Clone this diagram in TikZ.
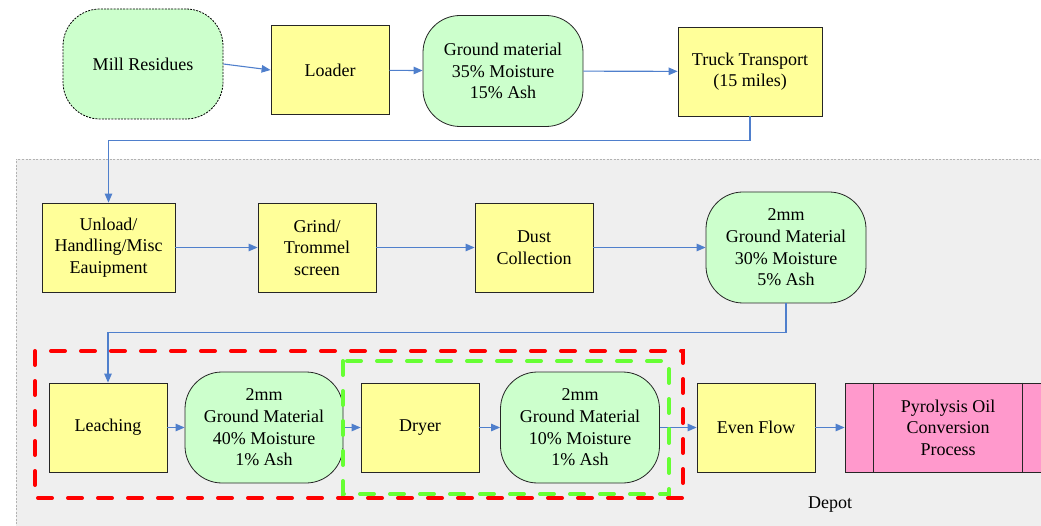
\documentclass[tikz,border=0pt]{standalone}
\usepackage{fontspec}
\setmainfont{Liberation Serif}
\newfontfamily\labelfont{Liberation Serif}
\usetikzlibrary{arrows.meta}

\definecolor{boxyellow}{HTML}{FFFF99}
\definecolor{boxgreen}{HTML}{CCFFCC}
\definecolor{boxpink}{HTML}{FF99CC}
\definecolor{flowblue}{HTML}{4F7FCC}
\definecolor{depotgray}{HTML}{EFEFEF}
\definecolor{dryergreen}{HTML}{66FF33}

\tikzset{
  proc/.style={draw=black!85, line width=0.8pt, fill=boxyellow, minimum width=118pt, minimum height=89pt, align=center, inner sep=2pt},
  stuff/.style={draw=black!85, line width=0.8pt, fill=boxgreen, rounded corners=37pt, minimum width=160pt, minimum height=111pt, align=center, inner sep=2pt},
  flow/.style={draw=flowblue, line width=1.1pt, -{Triangle[length=9pt,width=7.5pt]}},
  groupbox/.style={line width=4pt, line cap=round, dash pattern=on 14pt off 16pt}
}

\begin{document}
\begin{tikzpicture}[x=1pt, y=-1pt, font=\labelfont\fontsize{18}{21.6}\selectfont]
  \useasboundingbox (0,0) rectangle (1041,526);
  \clip (0,0) rectangle (1041,526);

  % depot area
  \fill[depotgray] (16,159) rectangle (1060,540);
  \draw[black!30, dash pattern=on 2pt off 1.5pt] (1060,159) -- (16,159) -- (16,540);

  % first row
  \node[stuff, draw=black, dash pattern=on 2pt off 1.2pt, minimum height=110pt] (mill) at (143,64) {Mill Residues};
  \node[proc] (loader) at (330,70) {Loader};
  \node[stuff] (ground) at (503,71) {Ground material\\35\% Moisture\\15\% Ash};
  \node[proc, minimum width=144pt] (truck) at (750,71.5) {Truck Transport\\(15 miles)};

  % second row
  \node[proc, minimum width=133pt] (unload) at (108.5,247.5) {Unload/\\Handling/Misc\\Eauipment};
  \node[proc] (grind) at (317,247.5) {Grind/\\Trommel\\screen};
  \node[proc] (dust) at (534,247.5) {Dust\\Collection};
  \node[stuff] (ground2) at (786,247.5) {2mm\\Ground Material\\30\% Moisture\\5\% Ash};

  % third row
  \node[proc] (leach) at (108,427.5) {Leaching};
  \node[stuff, minimum width=158pt] (ground3) at (264,427.5) {2mm\\Ground Material\\40\% Moisture\\1\% Ash};
  \node[proc] (dryer) at (420,427.5) {Dryer};
  \node[stuff, minimum width=159pt] (ground4) at (580,427.5) {2mm\\Ground Material\\10\% Moisture\\1\% Ash};
  \node[proc] (even) at (756,427.5) {Even Flow};
  \node[proc, fill=boxpink, minimum width=206pt] (pyro) at (948,427.5) {Pyrolysis Oil\\Conversion\\Process};
  \draw[black!85, line width=0.8pt] ([xshift=29pt]pyro.north west) -- ([xshift=29pt]pyro.south west);
  \draw[black!85, line width=0.8pt] ([xshift=-29pt]pyro.north east) -- ([xshift=-29pt]pyro.south east);

  \node (depot) at (830,505) {Depot};

  \draw[flow] (mill.east) -- (loader.west);
  \draw[flow] (loader) -- (ground);
  \draw[flow] (ground) -- (truck);
  \draw[flow] (truck.south) -- ++(0,24) -| (unload.north);
  \draw[flow] (unload) -- (grind);
  \draw[flow] (grind) -- (dust);
  \draw[flow] (dust) -- (ground2);
  \draw[flow] (ground2.south) -- ++(0,29) -| (leach.north);
  \draw[flow] (leach) -- (ground3);
  \draw[flow] (ground3) -- (dryer);
  \draw[flow] (dryer) -- (ground4);
  \draw[flow] (ground4) -- (even);
  \draw[flow] (even) -- (pyro);

  % leaching and drying groups
  \draw[groupbox, red] (35,351) rectangle (683,498);
  \draw[groupbox, dryergreen] (343,361) rectangle (669,494);
\end{tikzpicture}
\end{document}
